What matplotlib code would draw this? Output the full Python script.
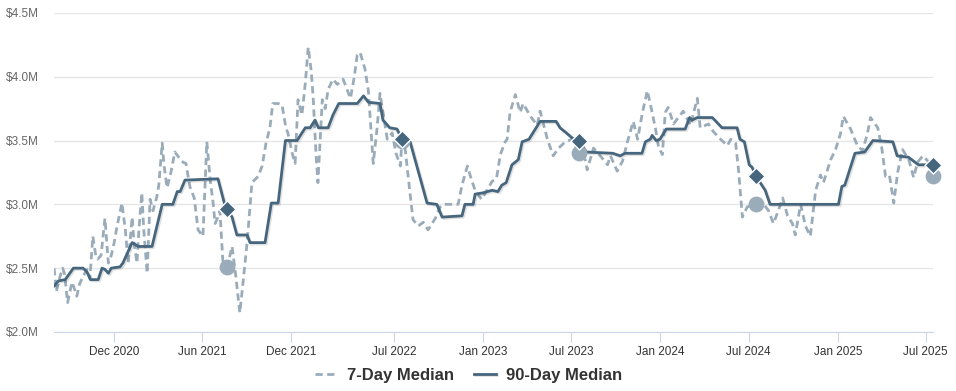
import pandas as pd
import matplotlib
matplotlib.use("Agg")
import matplotlib.pyplot as plt
import matplotlib.patheffects as pe
from matplotlib.ticker import FuncFormatter

plt.rcParams['font.family'] = ['Liberation Sans', 'DejaVu Sans']

# 7-day median price (millions of dollars)
d7_dates = [
    '2020-07-30', '2020-08-04', '2020-08-11', '2020-08-17', '2020-08-21', '2020-08-27',
    '2020-09-05', '2020-09-09', '2020-09-15', '2020-09-21', '2020-09-30', '2020-10-06',
    '2020-10-12', '2020-10-18', '2020-10-24', '2020-10-28', '2020-11-04', '2020-11-12',
    '2020-11-19', '2020-11-25', '2020-12-01', '2020-12-07', '2020-12-17', '2020-12-24',
    '2020-12-30', '2021-01-07', '2021-01-11', '2021-01-17', '2021-01-21', '2021-01-27',
    '2021-01-31', '2021-02-07', '2021-02-13', '2021-02-19', '2021-02-27', '2021-03-03',
    '2021-03-10', '2021-03-14', '2021-03-20', '2021-03-28', '2021-04-05', '2021-04-11',
    '2021-04-16', '2021-04-22', '2021-04-28', '2021-05-06', '2021-05-15', '2021-05-23',
    '2021-06-02', '2021-06-10', '2021-06-17', '2021-06-23', '2021-06-27', '2021-07-03',
    '2021-07-07', '2021-07-13', '2021-07-22', '2021-08-01', '2021-08-09', '2021-08-17',
    '2021-08-24', '2021-09-01', '2021-09-11', '2021-09-24', '2021-10-02', '2021-10-10',
    '2021-10-18', '2021-10-24', '2021-11-04', '2021-11-12', '2021-11-20', '2021-11-24',
    '2021-12-03', '2021-12-09', '2021-12-15', '2021-12-23', '2021-12-30', '2022-01-05',
    '2022-01-11', '2022-01-15', '2022-01-21', '2022-01-25', '2022-02-03', '2022-02-09',
    '2022-02-15', '2022-02-25', '2022-03-06', '2022-03-18', '2022-03-29', '2022-04-02',
    '2022-04-10', '2022-04-16', '2022-04-22', '2022-05-02', '2022-05-09', '2022-05-19',
    '2022-05-27', '2022-06-02', '2022-06-06', '2022-06-17', '2022-06-27', '2022-07-05',
    '2022-07-14', '2022-07-17', '2022-07-24', '2022-08-01', '2022-08-09', '2022-08-20',
    '2022-08-30', '2022-09-09', '2022-09-24', '2022-10-04', '2022-10-10', '2022-11-10',
    '2022-11-18', '2022-11-29', '2022-12-07', '2022-12-15', '2022-12-28', '2023-01-07',
    '2023-01-19', '2023-01-28', '2023-02-05', '2023-02-15', '2023-02-19', '2023-02-25',
    '2023-03-08', '2023-03-18', '2023-03-24', '2023-04-08', '2023-04-22', '2023-04-28',
    '2023-05-13', '2023-05-25', '2023-06-05', '2023-06-19', '2023-07-04', '2023-07-17',
    '2023-07-30', '2023-08-03', '2023-08-16', '2023-08-30', '2023-09-14', '2023-09-20',
    '2023-10-04', '2023-10-15', '2023-10-25', '2023-11-06', '2023-11-15', '2023-11-25',
    '2023-12-05', '2023-12-11', '2023-12-22', '2023-12-28', '2024-01-05', '2024-01-11',
    '2024-01-17', '2024-01-28', '2024-02-07', '2024-02-17', '2024-03-03', '2024-03-17',
    '2024-03-23', '2024-04-09', '2024-04-19', '2024-05-04', '2024-05-18', '2024-05-25',
    '2024-06-04', '2024-06-10', '2024-06-18', '2024-06-28', '2024-07-16', '2024-08-01',
    '2024-08-11', '2024-08-21', '2024-08-31', '2024-09-09', '2024-09-19', '2024-09-29',
    '2024-10-05', '2024-10-16', '2024-10-26', '2024-11-05', '2024-11-16', '2024-11-26',
    '2024-12-02', '2024-12-17', '2024-12-27', '2025-01-06', '2025-01-12', '2025-01-27',
    '2025-02-10', '2025-02-21', '2025-03-03', '2025-03-09', '2025-03-24', '2025-04-01',
    '2025-04-09', '2025-04-17', '2025-04-26', '2025-05-04', '2025-05-14', '2025-05-27',
    '2025-06-06', '2025-06-14', '2025-06-25', '2025-07-05', '2025-07-15',
]
d7_values = [
    2.50, 2.32, 2.43, 2.50, 2.45, 2.23,
    2.39, 2.35, 2.28, 2.38, 2.45, 2.49,
    2.42, 2.75, 2.60, 2.57, 2.60, 2.89,
    2.54, 2.60, 2.70, 2.83, 3.01, 2.80,
    2.54, 2.90, 2.70, 2.54, 2.80, 3.09,
    2.80, 2.46, 3.04, 2.95, 3.06, 3.15,
    3.48, 3.30, 3.13, 3.25, 3.41, 3.38,
    3.35, 3.33, 3.32, 3.14, 3.05, 2.80,
    2.75, 3.49, 3.19, 3.01, 2.85, 2.90,
    2.95, 2.56, 2.51, 2.67, 2.43, 2.15,
    2.40, 2.70, 3.17, 3.22, 3.30, 3.48,
    3.60, 3.79, 3.79, 3.78, 3.60, 3.56,
    3.40, 3.32, 3.82, 3.70, 3.95, 4.23,
    4.05, 3.85, 3.40, 3.17, 3.82, 3.75,
    3.90, 3.98, 3.94, 3.98, 3.87, 3.83,
    4.00, 4.17, 4.19, 4.06, 3.89, 3.32,
    3.60, 3.87, 3.77, 3.51, 3.56, 3.40,
    3.30, 3.50, 3.43, 3.15, 2.88, 2.83,
    2.86, 2.80, 2.89, 2.98, 3.00, 3.00,
    3.15, 3.30, 3.20, 3.11, 3.04, 3.10,
    3.18, 3.20, 3.39, 3.49, 3.51, 3.72,
    3.86, 3.72, 3.79, 3.69, 3.62, 3.73,
    3.51, 3.38, 3.44, 3.49, 3.51, 3.40,
    3.35, 3.27, 3.44, 3.38, 3.31, 3.38,
    3.26, 3.34, 3.49, 3.65, 3.51, 3.72,
    3.89, 3.79, 3.59, 3.45, 3.39, 3.72,
    3.76, 3.63, 3.68, 3.73, 3.62, 3.83,
    3.60, 3.63, 3.57, 3.51, 3.46, 3.51,
    3.48, 3.27, 2.90, 2.98, 3.00, 3.00,
    2.95, 2.85, 2.95, 3.05, 2.91, 2.85,
    2.76, 3.00, 2.83, 2.75, 3.11, 3.23,
    3.17, 3.35, 3.43, 3.55, 3.69, 3.59,
    3.46, 3.42, 3.56, 3.68, 3.60, 3.45,
    3.22, 3.23, 3.01, 3.25, 3.43, 3.35,
    3.21, 3.33, 3.38, 3.34, 3.22,
]

# 90-day median price (millions of dollars)
d90_dates = [
    '2020-07-30', '2020-08-08', '2020-08-22', '2020-09-08', '2020-09-28', '2020-10-06',
    '2020-10-13', '2020-10-29', '2020-11-06', '2020-11-12', '2020-11-19', '2020-11-25',
    '2020-12-13', '2020-12-19', '2021-01-07', '2021-01-20', '2021-02-17', '2021-03-10',
    '2021-04-01', '2021-04-10', '2021-04-16', '2021-04-26', '2021-07-03', '2021-07-16',
    '2021-07-22', '2021-08-01', '2021-08-11', '2021-09-01', '2021-09-07', '2021-10-08',
    '2021-10-21', '2021-11-04', '2021-11-19', '2021-12-13', '2021-12-30', '2022-01-09',
    '2022-01-19', '2022-01-26', '2022-02-15', '2022-02-25', '2022-03-09', '2022-04-16',
    '2022-04-29', '2022-05-09', '2022-06-02', '2022-06-08', '2022-06-22', '2022-07-07',
    '2022-07-17', '2022-08-03', '2022-09-07', '2022-09-27', '2022-10-08', '2022-11-18',
    '2022-11-24', '2022-12-11', '2022-12-15', '2022-12-31', '2023-01-19', '2023-01-31',
    '2023-02-08', '2023-02-17', '2023-03-01', '2023-03-14', '2023-03-22', '2023-04-05',
    '2023-04-28', '2023-05-31', '2023-06-08', '2023-06-21', '2023-07-03', '2023-07-17',
    '2023-08-01', '2023-09-25', '2023-10-10', '2023-10-20', '2023-11-24', '2023-12-01',
    '2023-12-11', '2023-12-15', '2023-12-23', '2023-12-31', '2024-01-13', '2024-02-21',
    '2024-03-01', '2024-03-06', '2024-03-17', '2024-04-17', '2024-05-07', '2024-06-07',
    '2024-06-13', '2024-06-22', '2024-07-02', '2024-07-08', '2024-07-16', '2024-08-04',
    '2024-08-14', '2025-01-02', '2025-01-09', '2025-01-15', '2025-02-05', '2025-02-25',
    '2025-03-14', '2025-04-24', '2025-05-03', '2025-05-26', '2025-06-16', '2025-07-15',
]
d90_values = [
    2.36, 2.40, 2.41, 2.50, 2.50, 2.47,
    2.41, 2.41, 2.50, 2.49, 2.46, 2.50,
    2.51, 2.54, 2.70, 2.67, 2.67, 3.00,
    3.00, 3.10, 3.10, 3.19, 3.20, 3.01,
    2.96, 2.90, 2.76, 2.76, 2.70, 2.70,
    3.01, 3.01, 3.50, 3.50, 3.60, 3.60,
    3.66, 3.60, 3.60, 3.70, 3.79, 3.79,
    3.85, 3.80, 3.79, 3.66, 3.60, 3.59,
    3.51, 3.49, 3.01, 3.00, 2.90, 2.91,
    3.00, 3.00, 3.08, 3.09, 3.11, 3.10,
    3.15, 3.17, 3.31, 3.35, 3.49, 3.51,
    3.65, 3.65, 3.60, 3.56, 3.52, 3.50,
    3.41, 3.40, 3.38, 3.40, 3.40, 3.49,
    3.51, 3.54, 3.50, 3.51, 3.59, 3.59,
    3.68, 3.66, 3.68, 3.68, 3.60, 3.60,
    3.51, 3.49, 3.31, 3.29, 3.22, 3.11,
    3.00, 3.00, 3.14, 3.15, 3.40, 3.41,
    3.50, 3.49, 3.38, 3.37, 3.31, 3.31,
]

# same mid-July date each year, highlighted on both series
marker_dates = ['2021-07-22', '2022-07-17', '2023-07-17', '2024-07-16', '2025-07-15']

tick_dates = ['2020-12-01', '2021-06-01', '2021-12-01', '2022-07-01', '2023-01-01',
              '2023-07-01', '2024-01-01', '2024-07-01', '2025-01-01', '2025-07-01']
tick_labels = ['Dec 2020', 'Jun 2021', 'Dec 2021', 'Jul 2022', 'Jan 2023',
               'Jul 2023', 'Jan 2024', 'Jul 2024', 'Jan 2025', 'Jul 2025']

c7 = '#9aacba'
c90 = '#46667e'

s7 = pd.Series(d7_values, index=pd.to_datetime(d7_dates))
s90 = pd.Series(d90_values, index=pd.to_datetime(d90_dates))
mk = pd.to_datetime(marker_dates)

fig = plt.figure(figsize=(9.56, 3.91), dpi=100)
ax = fig.add_axes([0.0565, 0.151, 0.9195, 0.816])

ax.plot(s7.index, s7.values, color=c7, lw=2.0, linestyle=(0, (2.6, 1.6)),
        label='7-Day Median', zorder=3)
ax.plot(s90.index, s90.values, color=c90, lw=2.0, label='90-Day Median', zorder=4,
        path_effects=[pe.SimpleLineShadow(offset=(1, -1), alpha=0.12), pe.Normal()])

ax.scatter(mk, s7.loc[mk].values, s=130, color=c7, zorder=5, clip_on=False, linewidths=0)
ax.scatter(mk, s90.loc[mk].values, s=75, marker='D', color=c90, edgecolors='white',
           linewidths=1.0, zorder=6, clip_on=False)

ax.set_xlim(pd.Timestamp('2020-07-30'), pd.Timestamp('2025-07-16'))
ax.set_ylim(2.0, 4.5)
ax.set_yticks([2.0, 2.5, 3.0, 3.5, 4.0, 4.5])
ax.yaxis.set_major_formatter(FuncFormatter(lambda v, p: f'${v:.1f}M'))
ax.set_xticks(pd.to_datetime(tick_dates))
ax.set_xticklabels(tick_labels)

ax.grid(axis='y', color='#e6e6e6', lw=1)
ax.set_axisbelow(True)
for s in ['top', 'right', 'left']:
    ax.spines[s].set_visible(False)
ax.spines['bottom'].set_color('#ccd6eb')
ax.tick_params(axis='y', length=0, pad=11, labelsize=8.5, labelcolor='#666666')
ax.tick_params(axis='x', length=7, color='#ccd6eb', pad=3, labelsize=8.5,
               labelcolor='#333333')

leg = fig.legend(loc='center', bbox_to_anchor=(0.49, 0.04), ncol=2, frameon=False,
                 handlelength=1.3, handletextpad=0.6, columnspacing=1.2,
                 prop={'weight': 'bold', 'size': 12})
for t in leg.get_texts():
    t.set_color('#333333')

fig.savefig('out.png', dpi=100)
